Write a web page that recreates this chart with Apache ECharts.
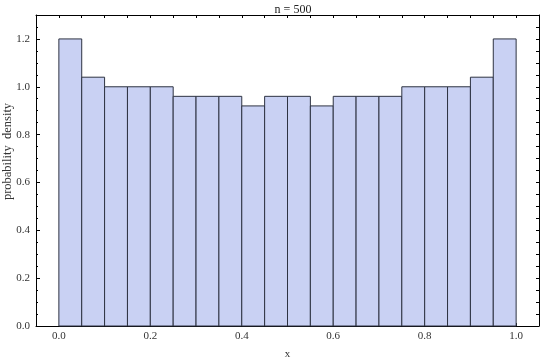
<!DOCTYPE html>
<html>
<head>
<meta charset="utf-8">
<script src="https://cdn.jsdelivr.net/npm/echarts@6/dist/echarts.min.js"></script>
<style>html,body{margin:0;padding:0;background:#fff}#c{width:540px;height:360px}</style>
</head>
<body>
<div id="c"></div>
<script>
var binStarts = [0.00,0.05,0.10,0.15,0.20,0.25,0.30,0.35,0.40,0.45,0.50,0.55,0.60,0.65,0.70,0.75,0.80,0.85,0.90,0.95];
var binEnds   = [0.05,0.10,0.15,0.20,0.25,0.30,0.35,0.40,0.45,0.50,0.55,0.60,0.65,0.70,0.75,0.80,0.85,0.90,0.95,1.00];
var densities = [1.20,1.04,1.00,1.00,1.00,0.96,0.96,0.96,0.92,0.96,0.96,0.92,0.96,0.96,0.96,1.00,1.00,1.00,1.04,1.20];
var xTickLabels = ['0.0','0.2','0.4','0.6','0.8','1.0'];
var yTickLabels = ['0.0','0.2','0.4','0.6','0.8','1.0','1.2'];
var titleText = 'n = 500';
var xName = 'x';
var yName = 'probability  density';

var FONT = '"Liberation Serif", "DejaVu Serif", serif';
var data = binStarts.map(function(s,i){ return [s, binEnds[i], densities[i]]; });

function xLabel(v){
  var r = Math.round(v*100)/100;
  var s = r.toFixed(1);
  if (Math.abs(r*5 - Math.round(r*5)) < 1e-6 && xTickLabels.indexOf(s) >= 0) return s;
  return '';
}
function yLabel(v){
  var r = Math.round(v*100)/100;
  var s = r.toFixed(1);
  return yTickLabels.indexOf(s) >= 0 && Math.abs(r*5 - Math.round(r*5)) < 1e-6 ? s : '';
}

var chart = echarts.init(document.getElementById('c'), null, {renderer:'canvas'});
var axisLine = {show:true, onZero:false, lineStyle:{color:'#000', width:1}};
chart.setOption({
  animation:false,
  title:{text:titleText, left:288, top:-1, textAlign:'center',
         textStyle:{fontFamily:FONT, fontSize:12, fontWeight:'normal', color:'#222'}},
  grid:{left:36, right:1, top:15, bottom:34, outerBoundsMode:'none', containLabel:false},
  xAxis:[
    {type:'value', position:'bottom', min:-0.05, max:1.05, interval:0.05,
     axisLine:axisLine, splitLine:{show:false},
     axisTick:{show:true, inside:true, length:3, lineStyle:{color:'#000'}},
     axisLabel:{formatter:xLabel, fontFamily:FONT, fontSize:11, color:'#333', margin:5, showMinLabel:false, showMaxLabel:false},
     name:xName, nameLocation:'middle', nameGap:23, nameMoveOverlap:false,
     nameTextStyle:{fontFamily:FONT, fontSize:11, color:'#333'}},
    {type:'value', position:'top', min:-0.05, max:1.05, interval:0.05,
     axisLine:axisLine, splitLine:{show:false},
     axisTick:{show:true, inside:true, length:3, lineStyle:{color:'#000'}},
     axisLabel:{show:false}}
  ],
  yAxis:[
    {type:'value', position:'left', min:0, max:1.3, interval:0.2,
     axisLine:axisLine, splitLine:{show:false},
     axisTick:{show:true, inside:true, length:4, lineStyle:{color:'#000'}},
     axisLabel:{formatter:yLabel, fontFamily:FONT, fontSize:11, color:'#333', margin:6, showMaxLabel:false},
     name:yName, nameLocation:'middle', nameGap:22, nameMoveOverlap:false,
     nameTextStyle:{fontFamily:FONT, fontSize:12.5, color:'#333', padding:[0,0,0,38]}},
    {type:'value', position:'left', offset:0, min:0, max:1.3, interval:0.05,
     axisLine:{show:false, onZero:false}, splitLine:{show:false},
     axisTick:{show:true, inside:true, length:2, lineStyle:{color:'#000'}},
     axisLabel:{show:false}},
    {type:'value', position:'right', min:0, max:1.3, interval:0.05,
     axisLine:axisLine, splitLine:{show:false},
     axisTick:{show:true, inside:true, length:3, lineStyle:{color:'#000'}},
     axisLabel:{show:false}}
  ],
  series:[{
    type:'custom', xAxisIndex:0, yAxisIndex:0,
    data:data,
    encode:{x:[0,1], y:2},
    renderItem:function(params, api){
      var p0 = api.coord([api.value(0), api.value(2)]);
      var p1 = api.coord([api.value(1), 0]);
      return {type:'rect',
        shape:{x:p0[0], y:p0[1], width:p1[0]-p0[0], height:p1[1]-p0[1]},
        style:{fill:'#c9d1f3', stroke:'#2e3342', lineWidth:1}};
    }
  }]
});
</script>
</body>
</html>
